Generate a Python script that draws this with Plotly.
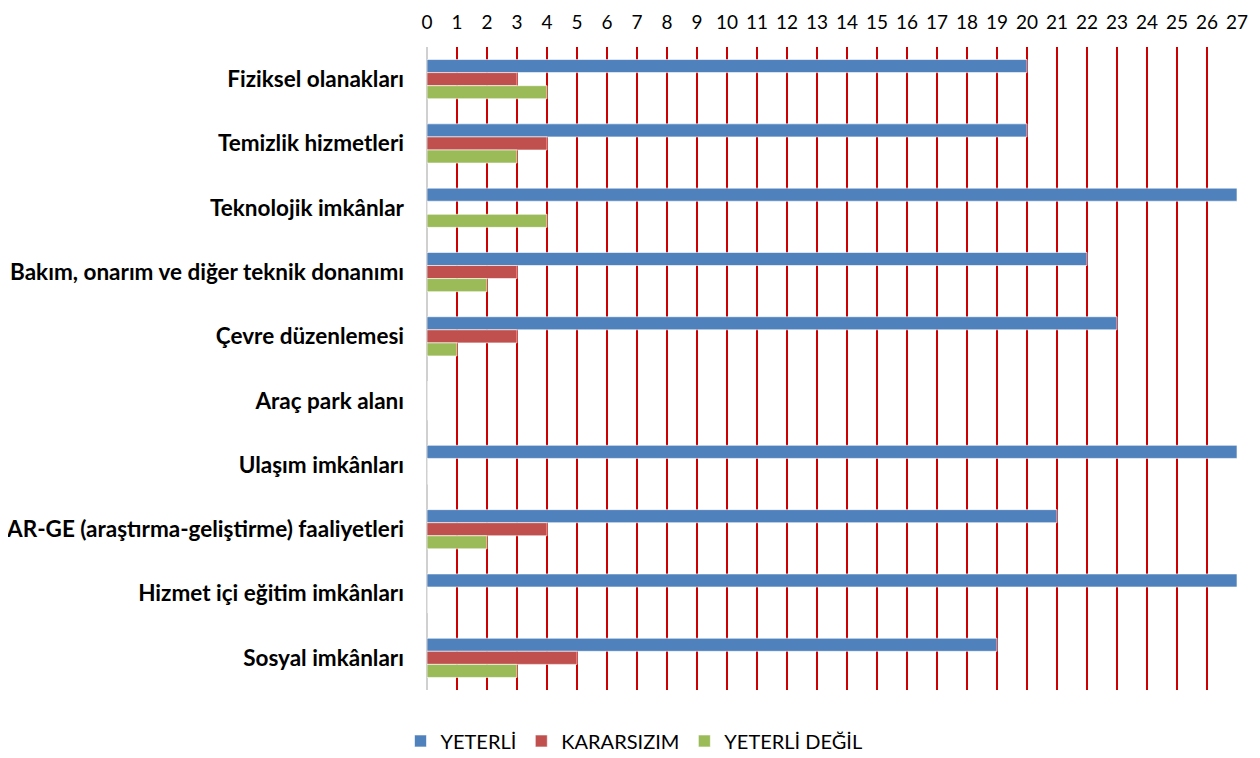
import plotly.graph_objects as go

categories = [
    "Fiziksel olanakları",
    "Temizlik hizmetleri",
    "Teknolojik imkânlar",
    "Bakım, onarım ve diğer teknik donanımı",
    "Çevre düzenlemesi",
    "Araç park alanı",
    "Ulaşım imkânları",
    "AR-GE (araştırma-geliştirme) faaliyetleri",
    "Hizmet içi eğitim imkânları",
    "Sosyal imkânları",
]
yeterli = [20, 20, 27, 22, 23, 0, 27, 21, 27, 19]
kararsizim = [3, 4, 0, 3, 3, 0, 0, 4, 0, 5]
yeterli_degil = [4, 3, 4, 2, 1, 0, 0, 2, 0, 3]
series_names = ["YETERLİ", "KARARSIZIM", "YETERLİ DEĞİL"]
colors = ["#4F81BD", "#C0504D", "#9BBB59"]
tick_values = list(range(0, 28))

fig = go.Figure()
for name, vals, col in zip(series_names, [yeterli, kararsizim, yeterli_degil], colors):
    fig.add_trace(go.Bar(
        y=categories, x=vals, name=name, orientation="h",
        marker=dict(color=col, line=dict(color="rgba(255,255,255,0.6)", width=1)),
    ))

font_family = "Lato, 'Open Sans', sans-serif"
fig.update_layout(
    width=1252, height=750,
    barmode="group", bargap=0.39, bargroupgap=0,
    plot_bgcolor="white", paper_bgcolor="white",
    margin=dict(l=419, r=23, t=39, b=68, autoexpand=False),
    font=dict(family=font_family, color="black"),
    legend=dict(orientation="h", xref="container", x=0.5, xanchor="center",
                yref="container", y=0.0227, yanchor="middle", font=dict(size=20),
                traceorder="normal"),
    xaxis=dict(
        side="top", range=[0, 27], tickvals=tick_values,
        showgrid=True, gridcolor="#CC0000", gridwidth=2,
        zeroline=True, zerolinecolor="#D0D0D0", zerolinewidth=2,
        showline=False, ticks="", tickfont=dict(size=19),
        ticklabelstandoff=13, automargin=False,
    ),
    yaxis=dict(
        autorange="reversed", showgrid=False, ticks="",
        tickfont=dict(size=22.5, family=font_family, weight="bold"),
        ticklabelstandoff=22, automargin=False,
    ),
)
fig.write_html("out.html")
